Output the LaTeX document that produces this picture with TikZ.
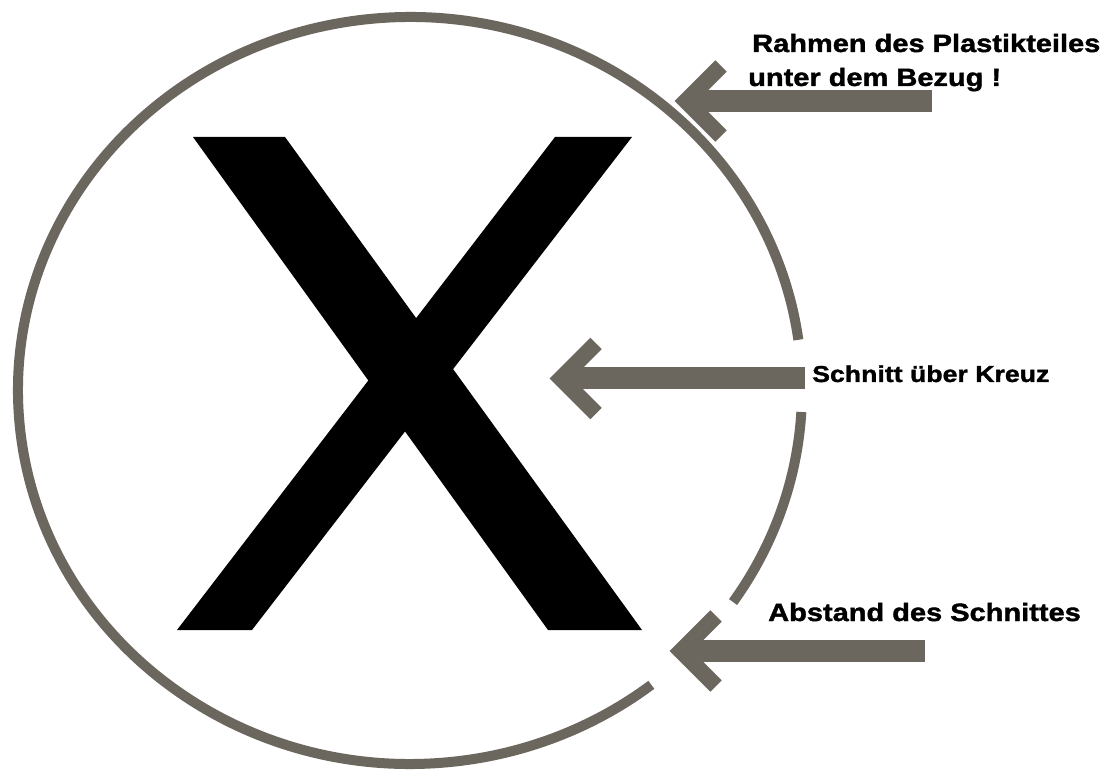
\documentclass[tikz,border=0pt]{standalone}
\usepackage{fontspec}
\newfontfamily\lab{Liberation Sans}[FakeStretch=1.16,FakeBold=1.5]
\definecolor{frame}{RGB}{108,103,94}
\begin{document}
\begin{tikzpicture}[x=1pt,y=1pt,
  ring/.style={draw=frame, line width=10pt},
  shaft/.style={draw=frame, line width=22pt},
  head/.style={draw=frame, line width=16pt, miter limit=10},
  lbl/.style={anchor=base west, inner sep=0pt, text=black,
              font=\lab\bfseries\fontsize{25}{30}\selectfont}]
\useasboundingbox (0,0) rectangle (1107,771);
\fill[white] (0,0) rectangle (1107,771);

% the X
\fill[black] (193,634) -- (285,634) -- (642,141) -- (548,141) -- cycle;
\fill[black] (555,634) -- (632,634) -- (252,141) -- (177,141) -- cycle;

% arrows
\coordinate (tv) at (686,670);
\coordinate (te) at (932,670);
\coordinate (mv) at (561,392.5);
\coordinate (me) at (805,392.5);
\coordinate (bv) at (681,120);
\coordinate (be) at (925,120);

\draw[shaft] (te) -- ([xshift=3pt]tv);
\draw[head] (tv) ++(35,35) -- (tv) -- ++(35,-35);
\draw[shaft] (me) -- ([xshift=3pt]mv);
\draw[head] (mv) ++(35,35) -- (mv) -- ++(35,-35);
\draw[shaft] (be) -- ([xshift=3pt]bv);
\draw[head] (bv) ++(35,35) -- (bv) -- ++(35,-35);

% the ring, with its two cuts
\coordinate (c) at (410,380.5);
\draw[ring] ([shift={(7.8:392pt and 373.5pt)}]c)
   arc[start angle=7.8, end angle=308, x radius=392pt, y radius=373.5pt];
\draw[ring] ([shift={(-34.5:392pt and 373.5pt)}]c)
   arc[start angle=-34.5, end angle=-3.3, x radius=392pt, y radius=373.5pt];

% labels
\node[lbl] (l1) at (752,719) {Rahmen des Plastikteiles};
\node[lbl] (l2) at (748,685) {unter dem Bezug !};
\node[lbl, font=\lab\bfseries\fontsize{23}{28}\selectfont] (l3) at (812,389) {Schnitt über Kreuz};
\node[lbl] (l4) at (768,150) {Abstand des Schnittes};
\end{tikzpicture}
\end{document}
